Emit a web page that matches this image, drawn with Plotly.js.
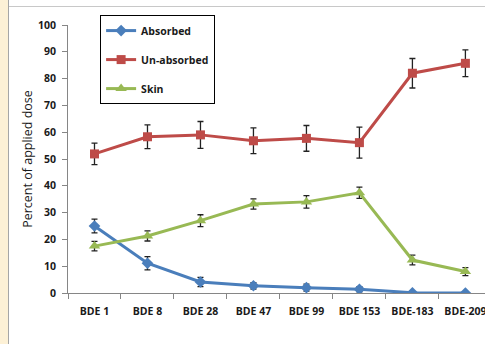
<!DOCTYPE html>
<html>
<head>
<meta charset="utf-8">
<script src="https://cdn.plot.ly/plotly-3.0.1.min.js"></script>
<style>
  html, body { margin:0; padding:0; width:485px; height:344px; overflow:hidden; background:#fdf1d6; }
  #frame { position:absolute; left:8px; top:0; width:477px; height:344px; background:#fff; border-left:1px solid #a6a6a6; }
  #topline { position:absolute; left:9px; top:6px; width:476px; height:1px; background:#c8c8c8; }
  #chart { position:absolute; left:9px; top:0; width:476px; height:344px; }
</style>
</head>
<body>
<div id="frame"></div>
<div id="chart"></div>
<div id="topline"></div>
<script>
const categories = ["BDE 1", "BDE 8", "BDE 28", "BDE 47", "BDE 99", "BDE 153", "BDE-183", "BDE-209"];
const absorbed      = [25.0, 11.1, 4.1, 2.7, 2.0, 1.4, 0.1, 0.0];
const absorbedErr   = [2.6, 2.5, 1.7, 1.2, 1.3, 1.0, 0.0, 0.0];
const unabsorbed    = [51.9, 58.3, 59.0, 56.8, 57.7, 56.1, 82.0, 85.7];
const unabsorbedErr = [4.0, 4.4, 5.0, 4.8, 4.8, 5.8, 5.5, 5.0];
const skin          = [17.5, 21.3, 27.0, 33.2, 34.0, 37.4, 12.3, 8.0];
const skinErr       = [1.8, 1.9, 2.2, 1.9, 2.3, 2.1, 1.8, 1.5];
const yTicks = [0, 10, 20, 30, 40, 50, 60, 70, 80, 90, 100];

function err(arr){ return {type:'data', array:arr, visible:true, color:'#222', thickness:1.3, width:3}; }

const traces = [
  {x:categories, y:absorbed, name:'Absorbed', legendgroup:'a', type:'scatter', mode:'lines+markers',
   line:{color:'#4a7ebb', width:3}, marker:{symbol:'diamond', size:9, color:'#4a7ebb'}, error_y:err(absorbedErr)},
  {x:categories, y:unabsorbed, name:'Un-absorbed', legendgroup:'b', type:'scatter', mode:'lines+markers',
   line:{color:'#be4b48', width:3}, marker:{symbol:'square', size:9, color:'#be4b48'}, error_y:err(unabsorbedErr)},
  {x:categories, y:skin, name:'Skin', legendgroup:'c', type:'scatter', mode:'lines+markers',
   line:{color:'#98b954', width:3}, marker:{symbol:'triangle-up', size:10, color:'#98b954'}, error_y:err(skinErr)}
];

const layout = {
  width:476, height:344,
  margin:{l:59, r:0, t:25, b:51},
  paper_bgcolor:'rgba(0,0,0,0)', plot_bgcolor:'rgba(0,0,0,0)',
  font:{family:'"Open Sans", "Liberation Sans", sans-serif', color:'#1a1a1a', size:11},
  showlegend:true,
  legend:{x:0.077, y:1.037, xanchor:'left', yanchor:'top', bgcolor:'#fff', bordercolor:'#000', borderwidth:1,
          font:{size:10.5, weight:'bold'}, tracegroupgap:10, entrywidth:80, entrywidthmode:'pixels'},
  xaxis:{type:'category', range:[-0.5, 7.37], autorange:false, showline:true, linecolor:'#868686', linewidth:1,
         ticks:'outside', tickson:'boundaries', ticklen:5, tickcolor:'#868686', showgrid:false, zeroline:false,
         tickangle:0, tickfont:{size:10.5, weight:'bold'}, ticklabelstandoff:8, fixedrange:true},
  yaxis:{range:[0,100], autorange:false, tickvals:yTicks, showline:true, linecolor:'#868686', linewidth:1,
         ticks:'outside', ticklen:5, tickcolor:'#868686', showgrid:false, zeroline:false,
         tickfont:{size:10.5, weight:'bold'}, ticklabelstandoff:4,
         title:{text:'Percent of applied dose', font:{size:12.5}, standoff:2}}
};

Plotly.newPlot('chart', traces, layout, {displayModeBar:false, staticPlot:true});
</script>
</body>
</html>
